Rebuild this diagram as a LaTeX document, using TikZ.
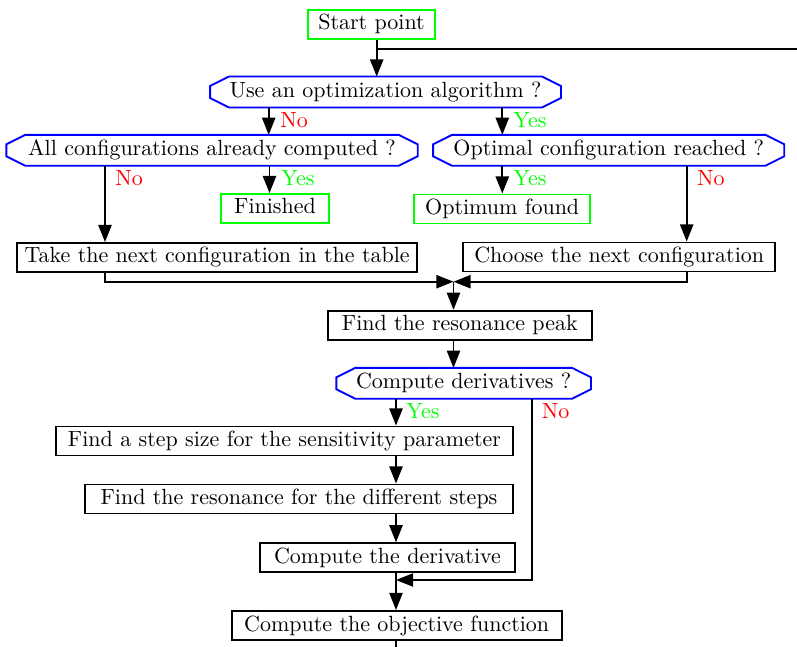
\documentclass[tikz,border=0pt]{standalone}
\usetikzlibrary{arrows.meta,calc}
\newdimen\pxu \pxu=0.454545pt
\definecolor{termgreen}{RGB}{0,255,0}
\definecolor{nored}{RGB}{255,0,0}
\definecolor{decblue}{RGB}{0,0,255}
\tikzset{
  basebox/.style={line width=0.85pt, inner xsep=0pt, inner ysep=2.1pt,
    text height=7pt, text depth=2pt, minimum height=29*\pxu},
  procbox/.style={basebox, draw=black},
  termbox/.style={basebox, draw=termgreen},
  decnode/.style={basebox, draw=none},
  decline/.style={draw=decblue, line width=0.85pt},
  conn/.style={line width=0.85pt, -{Triangle[length=7.8pt,width=6pt]}},
  plainline/.style={line width=0.85pt},
  yeslab/.style={text=termgreen, inner sep=0pt, anchor=base west},
  nolab/.style={text=nored, inner sep=0pt, anchor=base west},
}
\newcommand\octo[1]{\draw[decline] ([xshift=8.6pt]#1.north west) -- ([xshift=-8.6pt]#1.north east)
  -- ([yshift=-4.3pt]#1.north east) -- ([yshift=4.3pt]#1.south east)
  -- ([xshift=-8.6pt]#1.south east) -- ([xshift=8.6pt]#1.south west)
  -- ([yshift=4.3pt]#1.south west) -- ([yshift=-4.3pt]#1.north west) -- cycle;}
\begin{document}
\begin{tikzpicture}[x=\pxu, y=-\pxu]
\useasboundingbox (0,0) rectangle (797,647);
% nodes
\node[termbox, minimum width=127*\pxu] (start) at (371.5,24.5) {Start point};
\node[decnode, minimum width=349*\pxu] (useopt) at (385.5,92) {Use an optimization algorithm ?};
\node[decnode, minimum width=409.5*\pxu] (allconf) at (212,150.3) {All configurations already computed ?};
\node[decnode, minimum width=349.3*\pxu] (optconf) at (608.7,150.3) {Optimal configuration reached ?};
\node[termbox, minimum width=108*\pxu] (finished) at (275,208.5) {Finished};
\node[termbox, minimum width=175.7*\pxu] (optfound) at (502.2,209) {Optimum found};
\node[procbox, minimum width=399.7*\pxu] (take) at (217.2,257.5) {Take the next configuration in the table};
\node[procbox, minimum width=311.7*\pxu] (choose) at (619.2,257) {Choose the next configuration};
\node[procbox, minimum width=263.7*\pxu] (peak) at (459.8,325.3) {Find the resonance peak};
\node[decnode, minimum width=252.7*\pxu] (compder) at (463.7,383.3) {Compute derivatives ?};
\node[procbox, minimum width=457*\pxu] (stepsize) at (284.5,441) {Find a step size for the sensitivity parameter};
\node[procbox, minimum width=428*\pxu] (ressteps) at (299,499) {Find the resonance for the different steps};
\node[procbox, minimum width=255.7*\pxu] (deriv) at (387.5,557.8) {Compute the derivative};
\node[procbox, minimum width=330*\pxu] (objective) at (396.7,625.5) {Compute the objective function};
\octo{useopt}
\octo{allconf}
\octo{optconf}
\octo{compder}
% helper coordinates
\coordinate (c1) at (376.7,49);
\coordinate (offr) at (805,49);
\coordinate (xa) at (268.7,0);
\coordinate (xb) at (502.3,0);
\coordinate (xc) at (105,0);
\coordinate (xd) at (269.5,0);
\coordinate (xe) at (686.7,0);
\coordinate (m1) at (453.5,281.7);
\coordinate (m2) at (396,580);
\coordinate (xf) at (531.7,580);
\coordinate (offb) at (396,655);
% connectors
\draw[conn] (start.south -| c1) -- (useopt.north -| c1);
\draw[plainline] (c1) -- (offr);
\draw[conn] (useopt.south -| xa) -- (allconf.north -| xa);
\draw[conn] (useopt.south -| xb) -- (optconf.north -| xb);
\draw[conn] (allconf.south -| xc) -- (take.north -| xc);
\draw[conn] (allconf.south -| xd) -- (finished.north -| xd);
\draw[conn] (optconf.south -| xb) -- (optfound.north -| xb);
\draw[conn] (optconf.south -| xe) -- (choose.north -| xe);
\draw[conn] (take.south -| xc) |- (m1);
\draw[conn] (choose.south -| xe) |- (m1);
\draw[conn] (m1) -- (peak.north -| m1);
\draw[conn] (peak.south -| m1) -- (compder.north -| m1);
\draw[conn] (compder.south -| m2) -- (stepsize.north -| m2);
\draw[conn] (stepsize.south -| m2) -- (ressteps.north -| m2);
\draw[conn] (ressteps.south -| m2) -- (deriv.north -| m2);
\draw[conn] (deriv.south -| m2) -- (objective.north -| m2);
\draw[conn] (compder.south -| xf) |- (m2);
\draw[plainline] (objective.south -| m2) -- (offb);
% labels
\node[nolab] (l1) at (280,127.5) {No};
\node[yeslab] (l2) at (513,127.5) {Yes};
\node[nolab] (l3) at (115,185.5) {No};
\node[yeslab] (l4) at (281,185.5) {Yes};
\node[yeslab] (l5) at (513,185.5) {Yes};
\node[nolab] (l6) at (696.7,185.5) {No};
\node[yeslab] (l7) at (406,418) {Yes};
\node[nolab] (l8) at (541.5,418) {No};
\end{tikzpicture}
\end{document}
